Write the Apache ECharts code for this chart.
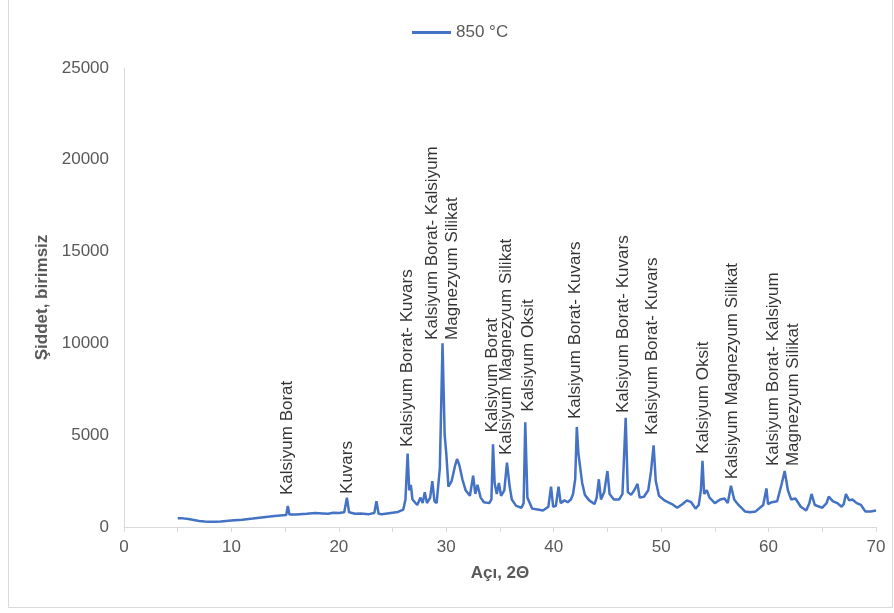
<!DOCTYPE html>
<html>
<head>
<meta charset="utf-8">
<script src="https://cdn.jsdelivr.net/npm/echarts@6/dist/echarts.min.js"></script>
<style>
html,body{margin:0;padding:0;background:#fff;}
#chart{width:894px;height:613px;}
</style>
</head>
<body>
<div id="chart"></div>
<script>
// 2-theta angle values (degrees)
const angles = [
5.0,5.5,6.0,6.5,7.0,7.5,8.0,8.5,9.0,10.0,11.0,12.0,13.0,14.0,14.8,15.1,15.25,15.4,16.0,17.0,17.8,18.5,19.0,19.5,20.0,20.5,20.75,20.95,21.5,22.0,22.8,23.3,23.5,23.7,24.0,24.5,25.0,25.5,26.0,26.2,26.4,26.55,26.7,26.85,27.0,27.3,27.6,27.8,28.0,28.2,28.5,28.7,28.9,29.1,29.4,29.65,29.85,30.0,30.2,30.5,30.8,31.0,31.2,31.5,31.8,32.2,32.5,32.7,32.9,33.2,33.5,34.0,34.2,34.35,34.5,34.7,34.9,35.1,35.4,35.65,35.9,36.1,36.5,37.0,37.2,37.35,37.55,38.0,38.5,39.0,39.5,39.75,39.95,40.2,40.45,40.65,41.0,41.3,41.6,41.8,42.0,42.15,42.3,42.45,42.65,42.9,43.3,43.8,44.0,44.2,44.4,44.7,45.0,45.2,45.6,46.1,46.4,46.7,46.9,47.2,47.5,47.8,48.0,48.4,48.8,49.05,49.3,49.5,49.8,50.3,51.0,51.5,52.0,52.4,52.8,53.2,53.5,53.7,53.85,54.0,54.25,54.5,55.0,55.5,55.9,56.2,56.5,56.8,57.2,57.8,58.3,58.8,59.5,59.8,59.95,60.3,60.8,61.2,61.5,61.8,62.1,62.5,63.0,63.5,63.8,64.0,64.3,65.0,65.4,65.6,66.0,66.4,66.8,67.0,67.2,67.5,67.8,68.2,68.6,69.0,69.5,70.0
];
// Intensity (unitless) at 850 °C
const intensity850 = [
480,470,430,380,330,300,290,290,300,350,400,460,530,600,640,650,1150,680,680,720,760,740,720,780,760,800,1600,800,720,740,700,760,1400,720,700,740,780,820,950,1500,4000,2000,2300,1500,1400,1200,1600,1300,1900,1300,1600,2500,1400,1300,3200,10000,5000,4000,2200,2500,3300,3700,3400,2600,2000,1700,2800,1800,2300,1600,1350,1300,1500,4500,2400,1800,2400,1700,2000,3500,2200,1500,1150,1050,1300,5700,1600,1000,950,900,1100,2200,1100,1150,2200,1300,1450,1350,1500,1800,2600,5450,4000,4100,2400,1750,1450,1250,1600,2600,1500,1900,3050,1800,1500,1500,1800,5950,1900,1750,2000,2350,1600,1650,2000,3000,4450,2500,1700,1450,1250,1050,1250,1450,1350,1000,1200,2000,3600,1800,2000,1600,1300,1500,1550,1300,2250,1500,1200,850,800,850,1200,2100,1250,1350,1400,2300,3050,2000,1500,1550,1100,900,1300,1800,1200,1050,1300,1650,1400,1300,1100,1250,1800,1450,1500,1300,1200,850,850,900
];
// Peak annotations: angle, label base intensity, text
const annoAngles = [15.2, 20.8, 26.4, 29.6, 34.25, 35.6, 37.6, 42.0, 46.5, 49.2, 53.9, 56.6, 61.4];
const annoBases  = [1740, 1800, 4360, 10190, 5150, 3920, 6280, 5880, 6210, 5010, 3980, 2600, 3320];
const annoTexts  = [
  "Kalsiyum Borat",
  "Kuvars",
  "Kalsiyum Borat- Kuvars",
  "Kalsiyum Borat- Kalsiyum\nMagnezyum Silikat",
  "Kalsiyum Borat",
  "Kalsiyum Magnezyum Silikat",
  "Kalsiyum Oksit",
  "Kalsiyum Borat- Kuvars",
  "Kalsiyum Borat- Kuvars",
  "Kalsiyum Borat- Kuvars",
  "Kalsiyum Oksit",
  "Kalsiyum Magnezyum Silikat",
  "Kalsiyum Borat- Kalsiyum\nMagnezyum Silikat"
];
const seriesName = "850 °C";
const xTitle = "Açı, 2Θ";
const yTitle = "Şiddet, birimsiz";

const FONT = "'Liberation Sans', Arial, sans-serif";
const lineData = angles.map((a, i) => [a, intensity850[i]]);
const annoData = annoAngles.map((a, i) => ({ value: [a, annoBases[i]], label: { formatter: annoTexts[i] } }));

const chart = echarts.init(document.getElementById('chart'), null, { renderer: 'canvas' });
chart.setOption({
  animation: false,
  backgroundColor: '#ffffff',
  textStyle: { fontFamily: FONT },
  graphic: [{
    type: 'rect', silent: true, z: -10,
    shape: { x: 8.5, y: -1, width: 884, height: 608.5 },
    style: { fill: 'none', stroke: '#d9d9d9', lineWidth: 1 }
  }],
  legend: {
    data: [{ name: seriesName, icon: 'path://M0,0 L40,0 L40,3 L0,3 Z' }],
    left: 407, top: 19,
    itemWidth: 39, itemHeight: 3, itemGap: 6,
    textStyle: { fontSize: 17, color: '#595959', fontFamily: FONT }
  },
  grid: { left: 124, right: 18, top: 68, bottom: 86, containLabel: false },
  xAxis: {
    type: 'value', min: 0, max: 70, interval: 5,
    name: xTitle, nameLocation: 'middle', nameGap: 38,
    nameTextStyle: { fontSize: 17, fontWeight: 'bold', color: '#595959', fontFamily: FONT },
    axisLine: { show: true, lineStyle: { color: '#d9d9d9', width: 1 } },
    axisTick: { show: true, length: 5, lineStyle: { color: '#d9d9d9' } },
    axisLabel: {
      fontSize: 17, color: '#595959', margin: 12, fontFamily: FONT,
      formatter: v => (v % 10 === 0 ? String(v) : '')
    },
    splitLine: { show: false }
  },
  yAxis: {
    type: 'value', min: 0, max: 25000, interval: 5000,
    name: yTitle, nameLocation: 'middle', nameGap: 66,
    nameTextStyle: { fontSize: 17, fontWeight: 'bold', color: '#595959', fontFamily: FONT },
    axisLine: { show: true, lineStyle: { color: '#d9d9d9', width: 1 } },
    axisTick: { show: false },
    axisLabel: { fontSize: 17, color: '#595959', margin: 15, fontFamily: FONT, formatter: v => String(v) },
    splitLine: { show: false }
  },
  series: [
    {
      name: seriesName, type: 'line', data: lineData,
      showSymbol: false, symbol: 'none', smooth: false,
      lineStyle: { color: '#4472C4', width: 2.5 },
      itemStyle: { color: '#4472C4' },
      z: 2
    },
    {
      name: 'labels', type: 'scatter', data: annoData,
      symbolSize: 0, silent: true, z: 3,
      label: {
        show: true, position: 'inside', rotate: 90,
        align: 'left', verticalAlign: 'middle',
        fontSize: 17, lineHeight: 20, color: '#000000', fontFamily: FONT
      }
    }
  ]
});
</script>
</body>
</html>
